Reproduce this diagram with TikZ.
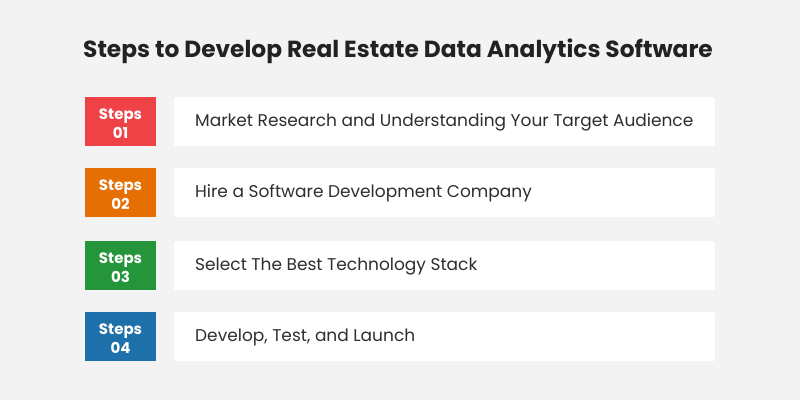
\documentclass[tikz,border=0pt]{standalone}
\usepackage{fontspec}
\setmainfont{Poppins}
\definecolor{bgc}{HTML}{F3F3F3}
\definecolor{titlec}{HTML}{222222}
\definecolor{textc}{HTML}{2E2E2E}
\definecolor{c1}{HTML}{EE4246}
\definecolor{c2}{HTML}{E56F02}
\definecolor{c3}{HTML}{24953A}
\definecolor{c4}{HTML}{1E70AB}
\begin{document}
\begin{tikzpicture}[x=1pt,y=-1pt,
  stepbox/.style={minimum width=71pt,minimum height=49pt,inner sep=0pt},
  steplabel/.style={inner sep=0pt,text=white,font=\fontsize{15}{19}\selectfont\bfseries,align=center},
  itembox/.style={fill=white,rounded corners=1.5pt,minimum width=541pt,minimum height=49pt,inner sep=0pt},
  itemtext/.style={anchor=west,text=textc,font=\fontsize{17}{20}\selectfont,inner sep=0pt}]
\useasboundingbox[fill=bgc] (0,0) rectangle (800,400);
\node[text=titlec,font=\fontsize{23.3}{27}\selectfont\bfseries] (title) at (398,51.5) {Steps to Develop Real Estate Data Analytics Software};
\foreach \i/\y/\c/\t in {1/121.5/c1/Market Research and Understanding Your Target Audience,
                          2/192.5/c2/Hire a Software Development Company,
                          3/265.5/c3/Select The Best Technology Stack,
                          4/336.5/c4/Develop{,} Test{,} and Launch}{
  \node[stepbox,fill=\c] (s\i) at (120.5,\y) {};
  \node[steplabel] (l\i) at (120.5,\y+1.8) {Steps\\0\i};
  \node[itembox] (b\i) at (444.5,\y) {};
  \node[itemtext] (t\i) at (195,\y+0.8) {\t};
}
\end{tikzpicture}
\end{document}
